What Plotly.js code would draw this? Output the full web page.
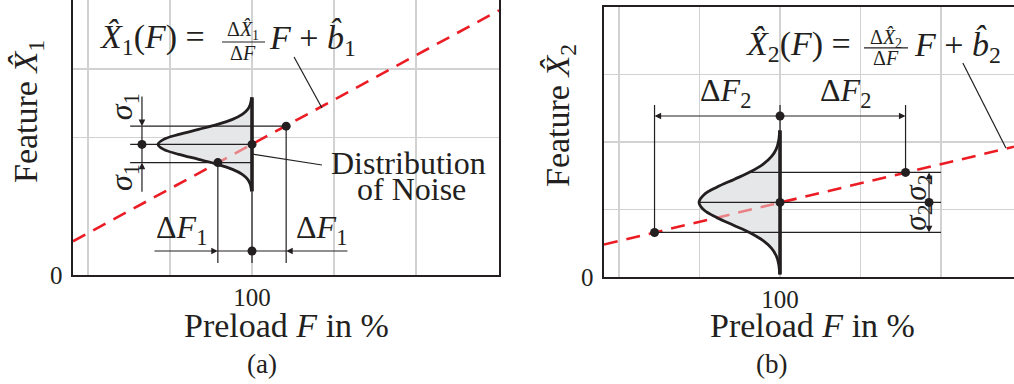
<!DOCTYPE html>
<html><head><meta charset="utf-8">
<script src="https://cdn.plot.ly/plotly-3.0.1.min.js"></script>
<style>html,body{margin:0;padding:0;background:#fff;overflow:hidden}#chart{width:1014px;height:384px}</style>
</head><body><div id="chart"></div>
<script>
// ---------- data ----------
const xGridTicks = [50, 75, 100, 125, 150];
const xTickText = ['', '', '100', '', ''];
const yGridTicksA = [0, 2, 3];
const yTickTextA = ['0', '', ''];
const yGridTicksB = [0, 1, 2, 3];
const yTickTextB = ['0', '', '', ''];

// panel (a): regression line, noise distribution, operating point
const lineA_F = [45.5, 175.2];
const lineA_X = [0.49, 3.85];
const distA_F = [99.88, 99.48, 98.69, 97.02, 94.06, 89.52, 83.74, 77.74, 73.11, 71.38, 73.11, 77.74, 83.74, 89.52, 94.06, 97.02, 98.69, 99.48, 99.88];
const distA_X = [2.584, 2.482, 2.409, 2.336, 2.264, 2.191, 2.118, 2.045, 1.973, 1.9, 1.827, 1.755, 1.682, 1.609, 1.536, 1.464, 1.391, 1.318, 1.216];
const pointA = [100, 1.9];
const sigmaA = 0.265;
const deltaFA = 10.4;

// panel (b)
const lineB_F = [45.3, 172.7];
const lineB_X = [0.48, 1.93];
const distB_F = [99.90, 99.55, 98.85, 97.38, 94.77, 90.80, 85.71, 80.44, 76.37, 74.84, 76.37, 80.44, 85.71, 90.80, 94.77, 97.38, 98.85, 99.55, 99.90];
const distB_X = [2.172, 2.013, 1.899, 1.787, 1.672, 1.558, 1.446, 1.332, 1.219, 1.105, 0.992, 0.878, 0.764, 0.652, 0.538, 0.423, 0.311, 0.197, 0.038];
const pointB = [100, 1.105];
const sigmaB = 0.445;
const deltaFB = 39;

// ---------- styling ----------
const SERIF = 'Liberation Serif, Times New Roman, serif';
const INK = '#231f20';
const RED = '#ec1c24';
const GRID = '#d2d2d2';

const traces = [];
function seg(list) { const xs = [], ys = []; list.forEach(s => { xs.push(s[0], s[2], null); ys.push(s[1], s[3], null); }); return {xs, ys}; }

function panel(xa, ya, lineF, lineX, dF, dX, pt, thinSegs, thickTop, thickBot, dots) {
  traces.push({type:'scatter', mode:'lines', x:dF, y:dX, xaxis:xa, yaxis:ya, fill:'toself', fillcolor:'#e6e7e8', line:{width:0, shape:'spline'}, hoverinfo:'skip'});
  traces.push({type:'scatter', mode:'lines', x:lineF, y:lineX, xaxis:xa, yaxis:ya, line:{color:RED, width:2.6, dash:'14px,9px'}, hoverinfo:'skip'});
  traces.push({type:'scatter', mode:'lines', x:dF, y:dX, xaxis:xa, yaxis:ya, fill:'toself', fillcolor:'rgba(230,231,232,0.5)', line:{width:0, shape:'spline'}, hoverinfo:'skip'});
  const s = seg(thinSegs);
  traces.push({type:'scatter', mode:'lines', x:s.xs, y:s.ys, xaxis:xa, yaxis:ya, line:{color:INK, width:1.2}, connectgaps:false, hoverinfo:'skip'});
  traces.push({type:'scatter', mode:'lines', x:dF, y:dX, xaxis:xa, yaxis:ya, line:{color:INK, width:2.8, shape:'spline'}, hoverinfo:'skip'});
  traces.push({type:'scatter', mode:'lines', x:[pt[0], pt[0]], y:[thickTop, thickBot], xaxis:xa, yaxis:ya, line:{color:INK, width:3.6}, hoverinfo:'skip'});
  traces.push({type:'scatter', mode:'markers', x:dots.map(d=>d[0]), y:dots.map(d=>d[1]), xaxis:xa, yaxis:ya, marker:{color:INK, size:9}, hoverinfo:'skip'});
}

// panel (a) geometry
const upA = pointA[1] + sigmaA, loA = pointA[1] - sigmaA;
const lfA = pointA[0] - deltaFA, rtA = pointA[0] + deltaFA;
panel('x', 'y', lineA_F, lineA_X, distA_F, distA_X, pointA, [
  [62.9, upA, rtA, upA],
  [62.9, pointA[1], pointA[0], pointA[1]],
  [62.9, loA, pointA[0], loA],
  [66.5, upA, 66.5, loA],
  [lfA, loA, lfA, 0.1745],
  [pointA[0], distA_X[distA_X.length-1], pointA[0], 0.1745],
  [rtA, upA, rtA, 0.1745],
  [lfA, 0.349, rtA, 0.349],
  [pointA[0], 1.76, 121.3, 1.60],
  [112.8, 3.171, 121.3, 2.429],
  [90.86, 3.389, 103.96, 3.389]
], distA_X[0], distA_X[distA_X.length-1], [[66.5, pointA[1]], pointA, [lfA, loA], [rtA, upA], [pointA[0], 0.349]]);

// panel (b) geometry
const upB = pointB[1] + sigmaB, loB = pointB[1] - sigmaB;
const lfB = pointB[0] - deltaFB, rtB = pointB[0] + deltaFB;
panel('x2', 'y2', lineB_F, lineB_X, distB_F, distB_X, pointB, [
  [90.3, upB, 150, upB],
  [distB_F[9], pointB[1], 150, pointB[1]],
  [lfB, loB, 150, loB],
  [lfB, loB, lfB, 2.548],
  [rtB, upB, rtB, 2.548],
  [pointB[0], distB_X[0], pointB[0], 2.548],
  [156.8, 3.17, 170.2, 1.911],
  [126.1, 3.393, 139.75, 3.393]
], distB_X[0], distB_X[distB_X.length-1], [[lfB, loB], pointB, [rtB, upB], [pointB[0], 2.385], [146.3, pointB[1]]]);

// ---------- annotations ----------
const ann = [];
function txt(xr, yr, x, y, text, size, opt) { ann.push(Object.assign({xref:xr, yref:yr, x, y, text, showarrow:false, xanchor:'center', yanchor:'middle', font:{family:SERIF, size, color:INK}}, opt||{})); }
function arrow(xr, yr, x, y, ax, ay) { ann.push({xref:xr, yref:yr, axref:xr, ayref:yr, x, y, ax, ay, text:'', showarrow:true, arrowhead:2, arrowsize:1.1, arrowwidth:1.2, arrowcolor:INK, standoff:0, startstandoff:0}); }

// panel (a) texts
txt('x','y', 86.3, 3.43, '<i>X\u0302</i><sub>1</sub>(<i>F</i>) =', 34, {xanchor:'right'});
txt('x','y', 97.4, 3.55, '\u0394<i>X\u0302</i><sub>1</sub>', 20);
txt('x','y', 97.4, 3.23, '\u0394<i>F</i>', 20);
txt('x','y', 104.6, 3.43, '<i>F</i> + <i>b\u0302</i><sub>1</sub>', 34, {xanchor:'left'});
txt('x','y', 60.9, 2.45, '<i>\u03c3</i><sub>1</sub>', 32, {textangle:-90});
txt('x','y', 60.9, 1.42, '<i>\u03c3</i><sub>1</sub>', 32, {textangle:-90});
txt('x','y', 78.4, 0.66, '\u0394<i>F</i><sub>1</sub>', 32);
txt('x','y', 121.3, 0.66, '\u0394<i>F</i><sub>1</sub>', 32);
txt('x','y', 147.5, 1.635, 'Distribution', 32);
txt('x','y', 148.6, 1.245, 'of Noise', 32);
arrow('x','y', 66.5, upA, 66.5, 2.62);
arrow('x','y', 66.5, loA, 66.5, 1.19);
arrow('x','y', lfA, 0.349, 69.85, 0.349);
arrow('x','y', rtA, 0.349, 129.5, 0.349);

// panel (b) texts
txt('x2','y2', 122.7, 3.42, '<i>X\u0302</i><sub>2</sub>(<i>F</i>) =', 34, {xanchor:'right'});
txt('x2','y2', 132.9, 3.54, '\u0394<i>X\u0302</i><sub>2</sub>', 20);
txt('x2','y2', 132.9, 3.24, '\u0394<i>F</i>', 20);
txt('x2','y2', 141.0, 3.42, '<i>F</i> + <i>b\u0302</i><sub>2</sub>', 34, {xanchor:'left'});
txt('x2','y2', 82.9, 2.73, '\u0394<i>F</i><sub>2</sub>', 32);
txt('x2','y2', 120.2, 2.73, '\u0394<i>F</i><sub>2</sub>', 32);
txt('x2','y2', 142.6, 1.326, '<i>\u03c3</i><sub>2</sub>', 31, {textangle:-90});
txt('x2','y2', 142.6, 0.881, '<i>\u03c3</i><sub>2</sub>', 31, {textangle:-90});
arrow('x2','y2', lfB, 2.385, pointB[0], 2.385);
arrow('x2','y2', rtB, 2.385, pointB[0], 2.385);
arrow('x2','y2', 146.3, upB, 146.3, pointB[1]);
arrow('x2','y2', 146.3, loB, 146.3, pointB[1]);

// axis titles and captions
txt('paper','paper', 28/1014, 1-112/384, 'Feature <i>X\u0302</i><sub>1</sub>', 34, {textangle:-90});
txt('paper','paper', 560/1014, 1-116/384, 'Feature <i>X\u0302</i><sub>2</sub>', 34, {textangle:-90});
txt('paper','paper', 286/1014, 1-325/384, 'Preload <i>F</i> in %', 34);
txt('paper','paper', 812/1014, 1-325/384, 'Preload <i>F</i> in %', 34);
txt('paper','paper', 262/1014, 1-364/384, '(a)', 27);
txt('paper','paper', 771/1014, 1-364/384, '(b)', 27);

function xax(domain, range, anchor, mirror) {
  return {domain, range, anchor, tickvals:xGridTicks, ticktext:xTickText, ticks:'', ticklabelstandoff:-1,
    tickfont:{family:SERIF, size:25, color:INK}, showgrid:true, gridcolor:GRID, gridwidth:1.6, zeroline:false,
    showline:true, linecolor:INK, linewidth:2.4, mirror, fixedrange:true, automargin:false};
}
function yax(domain, tv, tt, anchor, mirror) {
  return {domain, range:[0,4], anchor, tickvals:tv, ticktext:tt, ticks:'', ticklabelstandoff:3,
    tickfont:{family:SERIF, size:25, color:INK}, showgrid:true, gridcolor:GRID, gridwidth:1.6, zeroline:false,
    showline:true, linecolor:INK, linewidth:2.4, mirror, fixedrange:true, automargin:false};
}

const layout = {
  width:1014, height:384, margin:{l:0, r:0, t:0, b:0}, showlegend:false,
  paper_bgcolor:'#ffffff', plot_bgcolor:'#ffffff',
  xaxis: xax([73/1014, 499/1014], [45.5, 175.2], 'y', true),
  yaxis: yax([109/384, 1], yGridTicksA, yTickTextA, 'x', true),
  xaxis2: xax([604/1014, 1], [45.3, 172.7], 'y2', true),
  yaxis2: yax([107/384, 377/384], yGridTicksB, yTickTextB, 'x2', false),
  annotations: ann
};
Plotly.newPlot('chart', traces, layout, {staticPlot:true, displayModeBar:false});
</script></body></html>
